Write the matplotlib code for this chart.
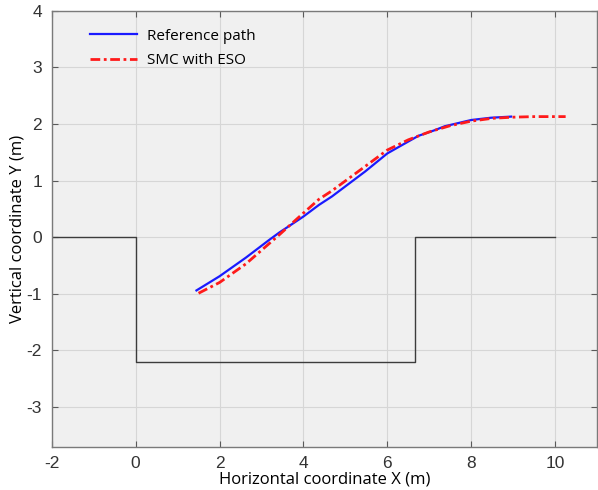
import matplotlib
matplotlib.use("Agg")
import matplotlib.pyplot as plt

plt.rcParams["axes.unicode_minus"] = False

# parking slot outline
slot_x = [-2, 0, 0, 6.65, 6.65, 10]
slot_y = [0, 0, -2.2, -2.2, 0, 0]

# reference path
ref_x = [1.45, 2.0, 2.63, 3.18, 3.42, 3.99, 4.37, 4.68, 5.47, 6.0, 6.5, 6.74, 7.13, 7.37, 8.0, 8.47, 8.95]
ref_y = [-0.94, -0.69, -0.36, -0.05, 0.08, 0.36, 0.57, 0.72, 1.16, 1.48, 1.69, 1.79, 1.89, 1.96, 2.07, 2.11, 2.13]

# SMC with ESO tracking result
smc_x = [1.5, 2.0, 2.63, 3.42, 3.99, 4.37, 4.68, 5.47, 6.0, 6.5, 7.0, 7.5, 8.0, 8.5, 9.0, 9.5, 10.25]
smc_y = [-0.99, -0.80, -0.47, 0.04, 0.42, 0.67, 0.82, 1.25, 1.54, 1.72, 1.86, 1.97, 2.05, 2.10, 2.12, 2.13, 2.13]

fig = plt.figure(figsize=(5.98, 4.9), dpi=100)
ax = fig.add_axes([0.0865, 0.0884, 0.912, 0.8897])
ax.set_facecolor("#f0f0f0")

ax.plot(slot_x, slot_y, color="#3c3c3c", lw=1.0)
ax.plot(ref_x, ref_y, color="#1a1aff", lw=1.6, label="Reference path")
ax.plot(smc_x, smc_y, color="#ff1a1a", lw=2.0, linestyle=(0, (3.5, 1.3, 1.0, 1.3)),
        label="SMC with ESO")

ax.set_xlim(-2, 11)
ax.set_ylim(-3.7, 4)
ax.set_xticks(range(-2, 11, 2))
ax.set_yticks(range(-3, 5))
ax.grid(True, color="#d6d6d6", lw=0.8)
ax.set_axisbelow(True)

for s in ax.spines.values():
    s.set_color("#7a7a7a")
    s.set_linewidth(1.0)
ax.tick_params(direction="in", length=4, color="#5a5a5a", labelcolor="#333333",
               labelsize=12.5, top=True, right=True, pad=7)
for lab in ax.get_xticklabels() + ax.get_yticklabels():
    lab.set_family("Liberation Sans")

ax.set_xlabel("Horizontal coordinate X (m)", fontsize=12, family="Open Sans", labelpad=0)
ax.set_ylabel("Vertical coordinate Y (m)", fontsize=12, family="Open Sans", labelpad=1)

leg = ax.legend(loc="upper left", frameon=False, prop={"family": "Open Sans", "size": 11},
                bbox_to_anchor=(0.045, 0.99), handlelength=3.1, handletextpad=0.6,
                labelspacing=0.6)

fig.savefig("out.png", dpi=100)
